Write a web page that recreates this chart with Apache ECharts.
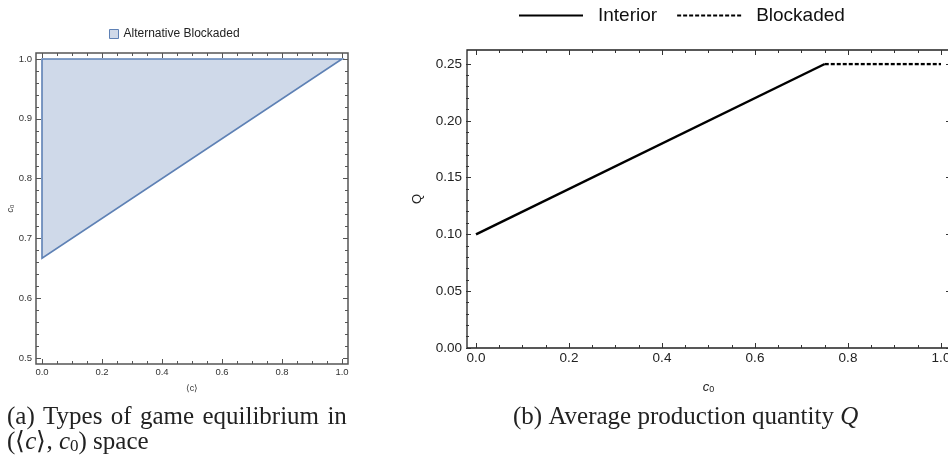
<!DOCTYPE html>
<html>
<head>
<meta charset="utf-8">
<script src="https://cdn.jsdelivr.net/npm/echarts@6/dist/echarts.min.js"></script>
<style>
  html, body { margin: 0; padding: 0; background: #fff; }
  #main { width: 948px; height: 456px; }
</style>
</head>
<body>
<div id="main"></div>
<script>
// (a) region where the alternative is blockaded, vertices in (<c>, c0) space
var regionC = [0, 0, 1];
var regionC0 = [0.667, 1.0, 1.0];

// (b) average production quantity Q against c0
var interiorC0 = [0, 0.75];
var interiorQ = [0.10, 0.25];
var blockadedC0 = [0.75, 1.0];
var blockadedQ = [0.25, 0.25];

var fillCol = '#cfd9e9';
var edgeCol = '#5e81b5';
var sans = 'Liberation Sans';
var serif = 'Liberation Serif';

var myChart = echarts.init(document.getElementById('main'));

// ticks only, drawn on the frame edge via offset
function frameAxis(grid, pos, min, max, interval, offset, color, minorSplit, label) {
  return {
    type: 'value', gridIndex: grid, position: pos,
    min: min, max: max, interval: interval, offset: offset,
    axisLine: {show: false, onZero: false},
    splitLine: {show: false},
    axisTick: {show: true, inside: true, length: 5, lineStyle: {color: color, width: 1}},
    minorTick: {show: true, splitNumber: minorSplit, length: 3, lineStyle: {color: color, width: 1}},
    axisLabel: label || {show: false}
  };
}

function lbl(size, color, digits, margin) {
  return {
    show: true, fontFamily: sans, fontSize: size, color: color, margin: margin,
    formatter: function (v) { return v.toFixed(digits); }
  };
}

var xA0 = frameAxis(1, 'bottom', 0, 1, 0.2, 6, '#555', 4, lbl(9.5, '#333', 1, 3));
xA0.name = '⟨c⟩';
xA0.nameLocation = 'middle';
xA0.nameGap = 20;
xA0.nameTextStyle = {fontFamily: sans, fontSize: 9, color: '#333'};

var yA0 = frameAxis(1, 'left', 0.5, 1, 0.1, 6, '#555', 5, lbl(9.5, '#333', 1, 4));
yA0.name = '{i|c}{s|0}';
yA0.nameLocation = 'middle';
yA0.nameGap = 20;
yA0.nameTextStyle = {
  fontFamily: sans, fontSize: 9, color: '#333',
  rich: {i: {fontStyle: 'italic', fontSize: 9, color: '#333'}, s: {fontSize: 6, color: '#333', verticalAlign: 'bottom'}}
};

var xA2 = frameAxis(3, 'bottom', 0, 1, 0.2, 0, '#333', 4, lbl(13.5, '#222', 1, 3));
xA2.name = '{i|c}{s|0}';
xA2.nameLocation = 'middle';
xA2.nameGap = 33;
xA2.nameTextStyle = {
  fontFamily: sans, fontSize: 13, color: '#222',
  rich: {i: {fontStyle: 'italic', fontSize: 13, color: '#222'}, s: {fontSize: 9, color: '#222', verticalAlign: 'bottom'}}
};

var yA2 = frameAxis(3, 'left', 0, 0.25, 0.05, 10, '#333', 5, lbl(13.5, '#222', 2, 4));
yA2.name = 'Q';
yA2.nameLocation = 'middle';
yA2.nameGap = 42;
yA2.nameTextStyle = {fontFamily: sans, fontSize: 13, color: '#222', padding: [0, 0, 0, 14]};

var capStyle = {fontFamily: serif, fontSize: 25, lineHeight: 25, fontWeight: 'normal', color: '#222'};
var gap = ' \u200A';

var option = {
  animation: false,
  backgroundColor: '#fff',
  title: [
    {text: ['(a)', 'Types', 'of', 'game', 'equilibrium', 'in'].join(gap), left: 7, top: 405, padding: 0,
      textStyle: capStyle},
    {text: '(⟨{i|c}⟩, {i|c}{s|0}) space', left: 7, top: 430, padding: 0,
      textStyle: Object.assign({}, capStyle, {
        rich: {i: {fontFamily: serif, fontStyle: 'italic', fontSize: 25, color: '#222'},
               s: {fontFamily: serif, fontSize: 17, color: '#222', verticalAlign: 'bottom'}}})},
    {text: '(b) Average production quantity {i|Q}', left: 513, top: 405, padding: 0,
      textStyle: Object.assign({}, capStyle, {
        rich: {i: {fontFamily: serif, fontStyle: 'italic', fontSize: 25, color: '#222'}}})}
  ],
  legend: [
    {
      data: [{name: 'Alternative Blockaded', icon: 'rect',
        itemStyle: {color: fillCol, borderColor: edgeCol, borderWidth: 1}}],
      left: 109, top: 28, padding: 0,
      itemWidth: 9, itemHeight: 9,
      textStyle: {fontFamily: sans, fontSize: 12, color: '#222'}
    },
    {
      data: ['Interior', 'Blockaded'],
      left: 518, top: 6, padding: 0,
      itemWidth: 64, itemHeight: 14, itemGap: 19,
      itemStyle: {opacity: 0},
      textStyle: {fontFamily: sans, fontSize: 19, color: '#111', padding: [0, 0, 0, 10]}
    }
  ],
  grid: [
    {left: 36, top: 53, width: 312, height: 311, show: true, borderColor: '#555', borderWidth: 1.5,
      backgroundColor: 'transparent', outerBoundsMode: 'none'},
    {left: 42, top: 59, width: 300, height: 299, outerBoundsMode: 'none'},
    {left: 467, top: 50, width: 490, height: 298, show: true, borderColor: '#222', borderWidth: 1.3,
      backgroundColor: 'transparent', outerBoundsMode: 'none'},
    {left: 476, top: 64, width: 465, height: 284, outerBoundsMode: 'none'}
  ],
  xAxis: [
    xA0,
    frameAxis(1, 'top', 0, 1, 0.2, 6, '#555', 4),
    xA2,
    frameAxis(3, 'top', 0, 1, 0.2, 14, '#333', 4)
  ],
  yAxis: [
    yA0,
    frameAxis(1, 'right', 0.5, 1, 0.1, 6, '#555', 5),
    yA2,
    frameAxis(3, 'right', 0, 0.25, 0.05, 10, '#333', 5)
  ],
  series: [
    {
      name: 'Alternative Blockaded',
      type: 'custom',
      xAxisIndex: 0, yAxisIndex: 0,
      itemStyle: {color: fillCol, borderColor: edgeCol},
      data: regionC.map(function (c, i) { return [c, regionC0[i]]; }),
      encode: {x: 0, y: 1},
      renderItem: function (params, api) {
        if (params.dataIndex !== 0) return;
        var pts = regionC.map(function (c, i) { return api.coord([c, regionC0[i]]); });
        pts.push(pts[0]);
        return {
          type: 'polygon',
          shape: {points: pts},
          style: {fill: fillCol, stroke: edgeCol, lineWidth: 1.6}
        };
      }
    },
    {
      name: 'Interior',
      type: 'line',
      xAxisIndex: 2, yAxisIndex: 2,
      symbol: 'none',
      data: interiorC0.map(function (c, i) { return [c, interiorQ[i]]; }),
      lineStyle: {color: '#000', width: 2.5},
      itemStyle: {color: '#000'}
    },
    {
      name: 'Blockaded',
      type: 'line',
      xAxisIndex: 2, yAxisIndex: 2,
      symbol: 'none',
      data: blockadedC0.map(function (c, i) { return [c, blockadedQ[i]]; }),
      lineStyle: {color: '#000', width: 2.5, type: [4, 2]},
      itemStyle: {color: '#000'}
    }
  ]
};
myChart.setOption(option);

window.addEventListener('resize', function(){
  myChart.resize()
})
</script>
</body>
</html>
